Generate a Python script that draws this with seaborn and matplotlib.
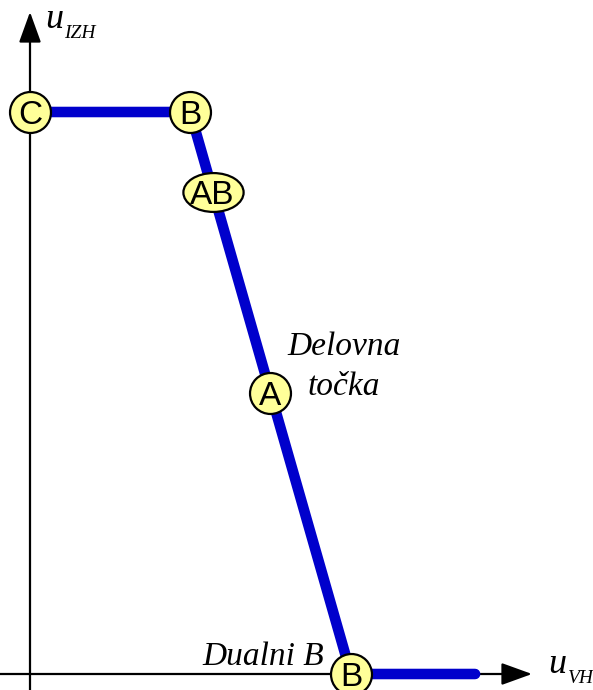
import matplotlib
matplotlib.use("Agg")
import matplotlib.pyplot as plt
import seaborn as sns
import numpy as np
from matplotlib.path import Path
from matplotlib.markers import MarkerStyle
from matplotlib.transforms import Affine2D

sns.set_style("white")
plt.rcParams["text.color"] = "black"

# characteristic u_IZH(u_VH), arbitrary units
u_vh = [0.0, 2.85, 5.71, 7.92]
u_izh = [10.0, 10.0, 0.0, 0.0]

# labelled operating points
pt_labels = ["C", "B", "AB", "A", "B"]
pt_x = [0.0, 2.85, 3.25, 4.27, 5.71]
pt_y = [10.0, 10.0, 8.58, 5.0, 0.0]

SCALE = 56.2          # pixels per unit
OX, OY = 30, 674      # pixel position of origin
W, H = 593, 690

fig = plt.figure(figsize=(W / 100, H / 100), dpi=100)
ax = fig.add_axes([0, 0, 1, 1])
ax.set_xlim(-OX / SCALE, (W - OX) / SCALE)
ax.set_ylim(-(H - OY) / SCALE, OY / SCALE)
ax.axis("off")


def P(px, py):
    return (px - OX) / SCALE, (OY - py) / SCALE


# axes with arrows
arrow = dict(arrowstyle="-|>,head_length=1.05,head_width=0.38",
             lw=1.6, color="black", shrinkA=0, shrinkB=0, mutation_scale=18)
ax.annotate("", xy=P(532, OY), xytext=P(0, OY), arrowprops=arrow, zorder=1)
ax.annotate("", xy=P(OX, 12), xytext=P(OX, H), arrowprops=arrow, zorder=1)

# characteristic
sns.lineplot(x=u_vh, y=u_izh, sort=False, estimator=None, ax=ax,
             color="#0000cc", lw=7.6, zorder=2,
             solid_capstyle="round", solid_joinstyle="miter")

# markers
circ_idx = [i for i, l in enumerate(pt_labels) if l != "AB"]
ell_idx = [i for i, l in enumerate(pt_labels) if l == "AB"]
sns.scatterplot(x=[pt_x[i] for i in circ_idx], y=[pt_y[i] for i in circ_idx],
                marker="o", s=870, color="#ffff99", edgecolor="black",
                linewidth=1.6, ax=ax, zorder=3)
ell_path = Path.unit_circle().transformed(Affine2D().scale(1.55, 1.0))
sns.scatterplot(x=[pt_x[i] for i in ell_idx], y=[pt_y[i] for i in ell_idx],
                marker=MarkerStyle(ell_path), s=1880, color="#ffff99",
                edgecolor="black", linewidth=1.6, ax=ax, zorder=3)

for lab, x, y in zip(pt_labels, pt_x, pt_y):
    ax.text(x, y, lab, ha="center", va="center_baseline", color="black",
            fontsize=24, family="Liberation Sans", zorder=4)

serif = dict(family="Liberation Serif", style="italic", color="black")
# axis labels
ax.text(*P(45, 28), "u", fontsize=26, ha="left", va="baseline", **serif)
ax.text(*P(64, 38), "IZH", fontsize=14, ha="left", va="baseline", **serif)
ax.text(*P(548, 673), "u", fontsize=26, ha="left", va="baseline", **serif)
ax.text(*P(568, 683), "VH", fontsize=14, ha="left", va="baseline", **serif)

# annotations
ax.text(*P(344, 355), "Delovna", fontsize=24, ha="center", va="baseline", **serif)
ax.text(*P(344, 395), "točka", fontsize=24, ha="center", va="baseline", **serif)
ax.text(*P(202, 665), "Dualni B", fontsize=24, ha="left", va="baseline", **serif)

fig.savefig("out.png", dpi=100)
